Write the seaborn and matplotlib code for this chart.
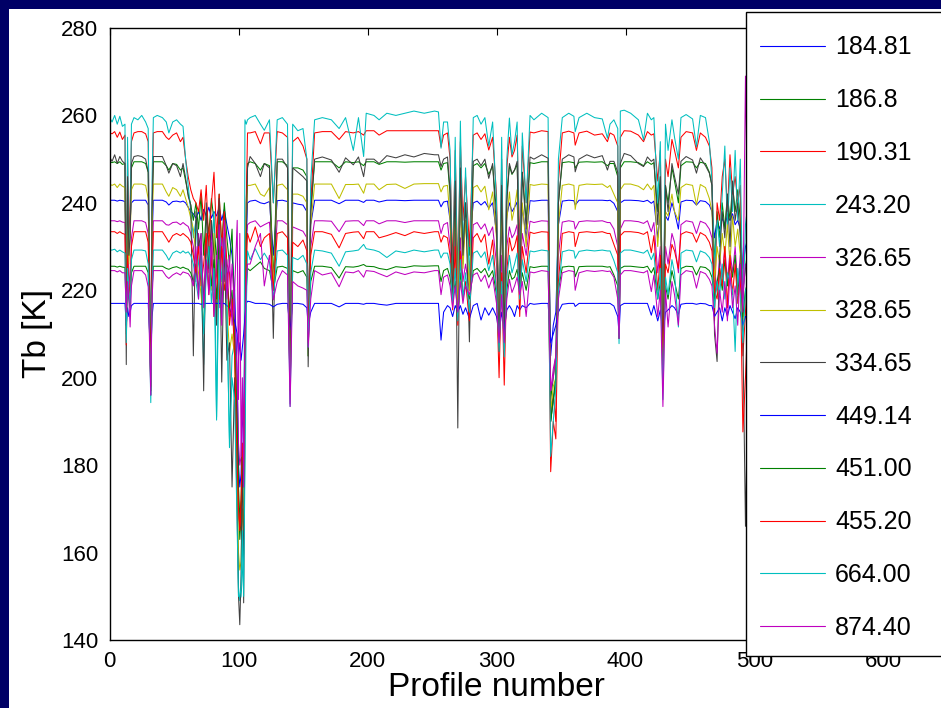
import numpy as np
import pandas as pd
import matplotlib
matplotlib.use("Agg")
import matplotlib.pyplot as plt
from matplotlib.lines import Line2D
from matplotlib.patches import Rectangle
import seaborn as sns

# ---------------- data ----------------
channels = ["184.81", "186.8", "190.31", "243.20", "326.65", "328.65",
            "334.65", "449.14", "451.00", "455.20", "664.00", "874.40"]

profile = [
    0, 2, 4, 6, 8, 10, 12,
    13, 14, 15, 16, 17,
    19, 22, 25, 28, 30,
    32, 33, 34,
    37, 41, 44, 46, 49, 52, 55,
    57, 59, 61, 63,
    65, 67, 69, 71, 73, 75, 77, 79, 81, 83, 85, 87, 89, 91, 93, 95,
    97, 99, 100, 101, 102, 103, 104, 105, 106, 107,
    109, 113, 117, 120, 124, 127, 130, 134, 138, 140, 142, 146, 150, 153, 154, 156, 159,
    165, 172, 178, 183, 189, 193, 197, 199, 205, 209, 215, 222, 229, 236, 244, 252,
    255, 257, 259, 262, 264, 266, 268, 270, 272, 274, 276, 279, 282, 285, 288, 291,
    294, 297, 300, 302, 304, 306, 308, 310, 312, 314, 316, 318, 320, 323, 326, 329,
    335, 340, 342, 344, 346, 348, 351, 356, 360, 361, 364,
    370, 376, 382, 386, 388, 391, 394, 395, 396, 399,
    404, 410, 414, 417, 420, 422, 425, 427, 429, 431, 433, 436, 438, 441, 443, 447, 452, 455, 458, 462, 465,
    467, 469, 471, 473, 475, 477, 479, 481, 483, 485, 487, 489, 491, 493, 495, 497, 500,
]

tb_184_81 = [
    240.6, 240.6, 240.6, 240.4, 240.6, 240.5, 240.3,
    225, 238, 232, 236, 240,
    240.6, 240.6, 240.6, 240.6, 239.5,
    205, 232, 240.6,
    240.6, 240.6, 240.2, 239.5, 240.3, 240.4, 240.2,
    240.4, 240, 239, 238,
    237.5, 236.5, 238, 236, 238.5, 237, 239, 236.5, 238, 237, 239, 236, 238.5, 235, 232, 228,
    220, 200, 180, 175, 178, 192, 188, 210, 232, 240,
    240.4, 240.6, 240, 239.8, 240.3, 228, 240.5, 240.6, 240.3, 205, 240, 239.7, 239.5, 238, 212, 235, 240.6,
    240.6, 240.6, 239.8, 240.6, 240.6, 240.6, 240.1, 240.6, 240.6, 240.2, 240.6, 240.6, 240.5, 240.6, 240.6, 240.6,
    240.6, 239.1, 240.2, 240.4, 236, 222, 238, 225, 239, 228, 236, 230, 240, 240.4, 239.5, 240.3,
    238.8, 240, 233, 215, 236, 218, 237, 240, 238, 239, 240.2, 226, 239, 232, 240.5, 240.4,
    240.6, 240.6, 205, 212, 215, 235, 240.4, 240.6, 240.5, 239.5, 240.6,
    240.6, 240.6, 240.6, 240.5, 240.6, 239.9, 238, 213, 240, 240.6,
    240.6, 240.5, 240.3, 240.6, 239.9, 240.4, 232, 238, 215, 237, 236, 240, 238, 234, 240.2, 240.6, 240.5, 239.5, 240.5, 240.3, 239.5,
    238, 232, 236, 234, 236.5, 235, 237, 236, 237.5, 235, 236, 234, 225, 230, 232, 236, 238,
]

tb_186_8 = [
    249.4, 249.2, 249.4, 249, 249.4, 248.8, 249,
    215, 245, 228, 236, 248,
    249.4, 249.4, 249.4, 249, 247,
    198, 238, 249.4,
    249.4, 249.4, 248.5, 247.5, 249, 248.8, 247.5,
    248, 245, 242, 239.5,
    236, 240, 234, 242, 228, 238, 233, 241, 236, 226, 242, 230, 240, 232, 226, 234,
    212, 190, 172, 163, 168, 180, 175, 205, 240, 249,
    249.4, 249, 247.5, 249, 248.5, 222, 249.4, 249.4, 248.5, 200, 248, 248, 247.5, 246, 205, 238, 249.4,
    249.4, 249.4, 248, 249.4, 249.2, 249.4, 248.5, 249.4, 249.4, 248.8, 249.4, 249.4, 249.3, 249.4, 249.4, 249.4,
    249.4, 247.5, 249, 249.2, 242, 222, 246, 220, 247, 230, 240, 228, 248.5, 249, 248, 249,
    246.5, 248.5, 238, 212, 244, 214, 242, 248.5, 246.5, 247.5, 248.8, 225, 247, 236, 249.2, 249,
    249.4, 249.4, 195, 200, 205, 240, 249.2, 249.4, 249.2, 248, 249.3,
    249.4, 249.3, 249.4, 248.5, 249, 249, 246, 210, 248, 249.4,
    249.4, 249.2, 248.5, 249.4, 248.8, 249.2, 238, 246, 210, 244, 240, 248, 245, 240, 248.5, 249.4, 249.3, 248, 249.3, 249, 247,
    244, 226, 238, 232, 240, 234, 242, 236, 244, 238, 243, 236, 220, 225, 230, 240, 245,
]

tb_190_31 = [
    256, 255.8, 256.3, 255, 256.2, 254.5, 255.5,
    212, 250, 230, 240, 254,
    256, 256.3, 256.3, 255.8, 254,
    200, 240, 256,
    256.3, 256.3, 255, 254.5, 255.5, 256, 254,
    255, 250, 246, 243,
    241, 240, 238, 243, 236, 244, 230, 240, 247, 232, 242, 230, 238, 226, 224, 214,
    212, 185, 168, 165, 170, 180, 178, 205, 240, 256,
    256, 256.3, 253.5, 256, 256, 240, 256.3, 256, 255, 205, 254, 255, 253, 250, 210, 240, 256,
    256.3, 256.3, 254.5, 256.3, 256, 256.3, 255.5, 256.5, 256.5, 255.5, 256.5, 256.5, 256.5, 256.5, 256.5, 256.5,
    256.5, 252.8, 255.5, 256, 250, 225, 252, 222, 254, 236, 246, 230, 255.5, 256, 254.5, 255.8,
    252.1, 255, 242, 210, 250, 212, 248, 255, 250.5, 252, 255.5, 230, 253, 240, 256.2, 256,
    256.5, 256.3, 192, 196, 190, 245, 256, 256.4, 256, 253.2, 256,
    256.4, 255.5, 255.8, 254, 256, 255.5, 253, 209, 255, 256.5,
    256.4, 255.5, 254, 256.3, 255.5, 255.8, 245, 252, 208, 250, 246, 254.5, 252, 248, 255, 256.3, 256, 252, 256, 255, 253,
    248, 213, 240, 236, 246, 250, 238, 251, 242, 246, 240, 244, 205, 215, 225, 245, 250,
]

tb_243_20 = [
    259.5, 258.5, 260, 258, 259.8, 257.5, 258,
    210, 255, 228, 235, 258,
    259.5, 259, 260, 258.5, 257,
    196, 245, 259.5,
    260, 259.5, 258.5, 256, 258.5, 259, 258,
    257.5, 250, 244, 238,
    232, 236, 226, 222, 203, 232, 220, 229, 238, 191, 236, 222, 230, 214, 186, 205,
    208, 182, 152, 149, 150, 155, 160, 259, 258, 259,
    259.5, 260, 258, 256.6, 259, 240, 259, 259.5, 258, 200, 258, 256.5, 257, 250, 205, 245, 259,
    259.5, 259, 257, 259.5, 252, 259.5, 250.6, 260.5, 260, 259, 260.5, 260, 260.5, 261, 260.5, 261,
    260.8, 252.5, 258.5, 258.5, 252, 218, 255, 215, 258.7, 226, 248, 222, 259.5, 260, 258, 259.5,
    253, 258.5, 240, 208, 255, 210, 250, 259.4, 251, 254, 258.5, 222, 256, 240, 260, 259,
    260.5, 259.5, 190, 195, 200, 250, 259.5, 260.5, 259.8, 256.3, 259.5,
    260.5, 259.5, 259.2, 254.8, 258, 259, 257, 210, 261, 261.2,
    260.5, 259, 254.4, 260.5, 259, 259.5, 240, 254, 205, 258, 252, 259, 255, 250, 259.5, 260.2, 259.2, 252.8, 260, 259.5, 254,
    245, 225, 236, 230, 242, 253, 234, 248, 238, 252, 236, 250, 215, 235, 240, 250, 255,
]

tb_326_65 = [
    235.9, 235.9, 235.9, 235.7, 235.9, 235.6, 235.5,
    215, 230, 225, 220, 232,
    235.9, 235.9, 235.9, 235.5, 233,
    199, 226, 235.9,
    235.9, 235.9, 235, 234.9, 235.5, 235.6, 235,
    235.5, 235, 234.6, 233,
    230, 222, 233, 226, 218, 231, 224, 234, 220, 228, 216, 232, 222, 227, 214, 226,
    215, 200, 185, 180, 182, 195, 190, 210, 230, 235,
    235.5, 235.9, 234.5, 235, 235.6, 222, 235.9, 235.9, 235, 194, 234.5, 234, 233.5, 232, 210, 230, 235.9,
    235.9, 235.8, 233.4, 235.8, 235.9, 235.9, 234.8, 235.9, 235.9, 235.2, 235.9, 235.9, 235.5, 235.9, 235.9, 235.9,
    235.9, 233, 235, 235.5, 230, 220, 233, 218, 232, 222, 226, 220, 235, 235.5, 234, 235.2,
    232.5, 234.5, 226, 210, 228, 212, 230, 234.5, 232, 233, 235, 222, 233, 228, 235.8, 235.5,
    235.9, 235.8, 197, 202, 205, 228, 235.6, 235.9, 235.7, 234, 235.7,
    235.9, 235.8, 235.9, 235.5, 235.5, 234, 230, 209, 234, 235.9,
    235.9, 235.7, 235.3, 235.9, 233.4, 235.5, 224, 230, 200, 230, 226, 233, 231, 224, 235, 235.9, 235.6, 233, 235.8, 235.3, 234,
    232, 225, 220, 228, 223, 230, 222, 229, 224, 230, 221, 228, 218, 226, 225, 230, 232,
]

tb_328_65 = [
    244.3, 244, 244.3, 243.5, 244.3, 243.8, 243.5,
    212, 240, 226, 232, 243,
    244.3, 244.3, 244.3, 244, 241,
    197, 235, 244.3,
    244.3, 244.3, 242.5, 241.5, 243.5, 243, 241.5,
    243, 241, 239, 236.5,
    234, 228, 224, 219, 212, 226, 230, 220, 233, 214, 228, 218, 234, 216, 206, 210,
    205, 175, 160, 156, 158, 170, 165, 200, 235, 244,
    244, 244.3, 242, 241.5, 243.5, 220, 244, 244.3, 243, 198, 242, 242, 241.5, 240, 205, 235, 244.3,
    244.3, 244.3, 241, 244.2, 244.2, 244.3, 242.2, 244.3, 244.3, 243, 244.2, 244.3, 243.3, 244.3, 244.4, 244.4,
    244.4, 242.5, 243.8, 244, 236, 220, 240, 214, 241, 225, 236, 220, 243.5, 244, 242.5, 243.8,
    238.4, 242.5, 232, 208, 240, 213, 236, 242.5, 236, 238.8, 243, 222, 240, 230, 244.2, 244,
    244.3, 244.2, 192, 198, 200, 235, 244, 244.3, 244, 238.5, 244,
    244.3, 244.2, 244.3, 243.5, 244, 242, 240, 210, 243, 244.3,
    244.3, 243.8, 243, 244.3, 243, 244, 230, 240, 207, 238, 237, 242, 238, 236, 243.5, 244.3, 244, 239.5, 244.2, 243.5, 241,
    238, 222, 230, 226, 233, 228, 235, 226, 237, 230, 234, 228, 212, 220, 222, 235, 240,
]

tb_334_65 = [
    250.5, 249.5, 251, 249, 250.6, 249.5, 249,
    203, 246, 228, 232, 249,
    250.6, 250.8, 250.6, 250, 247,
    196, 238, 250.6,
    250.6, 250.6, 248.5, 246.8, 249, 248.5, 246,
    249, 245.7, 241.5, 239.5,
    205, 238, 230, 233, 197, 240, 225, 236, 228, 212, 241, 199, 232, 204, 208, 175,
    200, 168, 150, 143.5, 155, 185, 148.5, 190, 230, 248,
    250.6, 249, 246, 249, 248, 209, 250, 250, 248, 200, 248, 247, 246, 245, 202.5, 238, 250,
    250.5, 249.8, 247, 250.3, 248.7, 250.5, 246, 250, 250, 249, 250.8, 250.3, 251, 250.5, 251.3, 251,
    251, 248.3, 250, 250.5, 243, 217.5, 245, 188.5, 248, 228, 240, 208.2, 249.5, 250, 248.5, 250,
    245.6, 249, 234, 206, 244, 210, 240, 249, 246.7, 247.5, 249.5, 220, 247, 234, 250.5, 250,
    251, 250.2, 190, 195, 198, 240, 250, 251, 250.5, 247.1, 250,
    251, 250.3, 250.8, 247.5, 249.5, 249.5, 247, 209, 249, 251.3,
    250.8, 249, 248.3, 250.5, 249.5, 250, 235, 246, 204, 244, 238, 249, 246, 242, 249.5, 250.6, 249.8, 246.8, 250.3, 248.5, 246.8,
    244, 210, 203.7, 228, 238, 232, 242, 230, 245, 236, 240, 232, 210, 166, 200, 240, 245,
]

tb_449_14 = [
    217, 217, 217, 217, 217, 217, 217,
    212, 216, 214, 215, 216.5,
    217, 217, 217, 217, 217,
    205, 214, 217,
    217, 217, 217, 217, 217, 217, 217,
    217, 217, 217, 217,
    217, 217, 217, 216.8, 217, 217, 217, 217, 217, 217, 217, 217, 217, 216.5, 216, 214,
    213, 210, 205, 208, 204, 207, 210, 214, 217, 217.5,
    217.4, 217, 217, 217, 216.8, 216.2, 216.8, 217, 217, 211, 217, 217, 216.8, 216, 212, 215, 217,
    217, 217, 216.2, 217, 217, 217, 216.8, 217, 217, 216.8, 216.6, 217, 217, 217, 217, 217,
    217, 208.6, 215, 216.5, 216, 214, 216.5, 215, 216.5, 214.5, 216, 213.5, 216.5, 217, 213.2, 216,
    214.3, 216, 214, 210, 215, 211, 215.5, 216.5, 215.5, 214, 216.5, 215.5, 216.5, 216, 217, 216.8,
    217, 217, 208, 210, 212, 215, 216.8, 217, 217, 216.3, 217,
    217, 217, 217, 217, 217, 216.4, 214, 210, 216.5, 217,
    217, 217, 217, 217, 214.3, 216.5, 213, 215.5, 210, 215, 215.5, 216.5, 216, 214.5, 216.8, 217, 217, 216.8, 217, 216.9, 216.5,
    216.5, 214, 215, 216, 213, 216, 214, 216.5, 215, 213.5, 216, 215, 212, 214, 214, 216, 216.5,
]

tb_451_00 = [
    225.5, 225.5, 225.5, 225.3, 225.5, 225.3, 225.2,
    213, 222, 218, 216, 224,
    225.5, 225.5, 225.5, 225.5, 224,
    197, 220, 225.5,
    225.5, 225.5, 225, 224.8, 225.2, 225.4, 225,
    225.3, 225, 224.8, 224,
    222, 226, 220, 229, 218, 224, 230, 221, 227, 218, 232, 216, 233, 222, 216, 220,
    208, 188, 175, 168, 172, 185, 180, 205, 220, 225,
    224.5, 225.5, 226.5, 225, 224.5, 220, 225.3, 225.5, 225, 198, 224.5, 224, 224.5, 223, 210, 222, 225.5,
    225.5, 225.2, 222.8, 225.4, 225.3, 225.5, 225.9, 225.5, 225.4, 225, 224.7, 225.4, 225.2, 225.6, 225.5, 225.6,
    225.6, 222, 224.5, 225, 223, 218, 222, 214, 224, 219, 221, 218, 224.5, 225, 224, 225,
    223, 224.5, 219, 206, 221, 207, 220, 224.5, 222.5, 223, 224.8, 220, 224, 220, 225.4, 225.2,
    225.5, 225.5, 190, 195, 200, 220, 225.3, 225.5, 225.4, 223.1, 225.4,
    225.5, 225.5, 225.5, 225.3, 225.4, 223.5, 221, 209, 225, 225.5,
    225.5, 225.3, 225.2, 225.5, 224, 225.2, 218, 222, 205, 221, 218, 224.5, 222, 218, 225, 225.5, 225.4, 223.5, 225.4, 225.2, 224.5,
    223, 218, 222, 225, 220, 227, 221, 226, 223, 228, 219, 226, 214, 220, 221, 223, 224,
]

tb_455_20 = [
    233.4, 233.4, 233.4, 233, 233.4, 233, 232.8,
    207.5, 228, 222, 218, 230,
    233.4, 233.4, 233.4, 233.4, 231,
    198, 224, 233.4,
    233.4, 233.4, 232, 231, 232.5, 233, 232.5,
    233, 232.5, 232, 231,
    228, 224, 230, 221, 226, 233, 219, 228, 214, 225, 218, 230, 220, 224, 212, 218,
    205, 180, 170, 166, 172, 185, 180, 205, 225, 233,
    231, 234.5, 230, 232, 233, 220, 233, 233.4, 232, 197, 231, 230, 231.5, 229, 208, 228, 233.4,
    233.4, 232.8, 229.7, 233, 233.3, 233.4, 231.8, 233.4, 233.4, 232, 232.5, 233.2, 232.5, 233.4, 233, 233.4,
    233.4, 231, 232.5, 232, 228, 215.5, 230, 212, 229, 218, 222, 213, 232, 233, 231, 232.8,
    226, 231.5, 220, 200, 224, 198.3, 224, 232, 229, 230, 232.5, 214, 230, 224, 233.3, 233,
    233.4, 233.3, 178.5, 190, 186, 222, 233, 233.4, 233.2, 230, 233.2,
    233.4, 233.2, 233.4, 233, 233, 230.5, 228, 209, 232.5, 233.4,
    233.4, 233.2, 232.8, 233.4, 228.6, 232.5, 220, 228, 203, 226, 224, 230.5, 229, 225, 232.8, 233.4, 233, 231, 233.2, 232.5, 231,
    229, 220, 218, 225, 221, 230, 216, 228, 219, 226, 217, 224, 187.6, 200, 215, 228, 230,
]

tb_664_00 = [
    229.2, 229.2, 229.4, 228.8, 229.2, 228.8, 228.5,
    208, 225, 220, 216, 227,
    229.2, 229.2, 229.2, 229, 226,
    194.3, 220, 229.2,
    229.2, 229.2, 228, 226.9, 228.5, 229, 228.5,
    229, 228.5, 228.8, 228,
    226, 222, 218, 228, 210, 224, 230, 217, 225, 190.3, 227, 214, 232, 218, 184, 200,
    195, 165, 150, 149.8, 152, 165, 150, 180, 215, 229,
    227, 229.5, 227, 228.5, 226.5, 218, 229, 229.2, 228, 193.4, 227.5, 227, 228, 226, 207, 224, 229.2,
    229, 228.5, 225.5, 228.8, 229, 229.2, 230.5, 229.5, 229.2, 228.8, 227.5, 229, 228.6, 229.2, 228.8, 229.2,
    229.2, 227.4, 228.5, 228.5, 226, 217, 225, 213, 227, 218, 224, 215, 228.5, 229, 227.5, 228.8,
    224.5, 228, 220, 206, 222, 204.8, 223, 228, 224, 226, 228.5, 218, 227, 222, 229, 228.8,
    229.2, 229, 182, 190, 198, 220, 228.8, 229.2, 229, 227.3, 228.9,
    229.2, 229, 229.2, 229, 229, 226.8, 224, 207.8, 228.5, 229.2,
    229.2, 228.8, 228.5, 229.2, 227, 228.5, 218, 225, 195, 223, 219, 227, 224, 211.6, 228.5, 229.2, 229, 226.5, 229, 228.5, 227.5,
    226, 216, 222, 219, 226, 218, 224, 222, 220, 206, 225, 219, 208, 220, 222, 226, 227,
]

tb_874_40 = [
    224.5, 224.5, 224.5, 224.2, 224.5, 224, 224,
    215, 222, 218, 211.6, 221,
    224.5, 224.5, 224.5, 223.5, 220.8,
    196, 218, 224.5,
    224.5, 224.5, 223.2, 222.7, 223.5, 224, 223.5,
    224.2, 224, 223.8, 223,
    221, 230, 218, 233, 216, 227, 219, 231, 214, 226, 235, 212, 236, 218, 228, 212,
    220, 236, 195, 233, 182, 200, 175, 210, 222, 226,
    226, 230, 233, 221, 228, 217.8, 222, 224.5, 223.5, 193.4, 222, 221, 220.5, 220, 207, 218, 224.5,
    223.5, 224, 220.8, 224.2, 224, 224.5, 223, 224.5, 224.3, 223.8, 223.1, 224.2, 223.6, 224.2, 224, 224.5,
    224.5, 219, 223, 223.5, 221, 216, 221, 215, 222, 217, 221, 219, 223.5, 224, 222, 223.5,
    220.5, 223, 217, 208, 219, 208, 218, 222.5, 219.5, 221, 223, 219, 222, 214, 224.2, 224,
    224.5, 224.3, 197, 200, 205, 218, 224, 224.5, 224.3, 220, 224,
    224.5, 224.3, 224.5, 224.3, 224.4, 223, 218, 209, 223.5, 224.5,
    224.5, 224.2, 224, 224.5, 219.7, 223.5, 214, 220, 193.4, 220, 211.6, 222, 219, 212, 223.5, 224.5, 224.2, 220.5, 224.3, 223.8, 222.5,
    221, 212, 205.6, 220, 215, 222, 213, 224, 216, 221, 212, 226, 215, 269, 230, 222, 223,
]

series = [tb_184_81, tb_186_8, tb_190_31, tb_243_20, tb_326_65, tb_328_65,
          tb_334_65, tb_449_14, tb_451_00, tb_455_20, tb_664_00, tb_874_40]

colors = ["#0000ff", "#008000", "#ff0000", "#00bfbf", "#bf00bf", "#bfbf00",
          "#404040", "#0000ff", "#008000", "#ff0000", "#00bfbf", "#bf00bf"]

x_ticks = [0, 100, 200, 300, 400, 500, 600]
y_ticks = [140, 160, 180, 200, 220, 240, 260, 280]

lengths = [len(s) for s in series]
if any(n != len(profile) for n in lengths):
    raise SystemExit(f"length mismatch: profile={len(profile)} series={lengths}")

frames = []
for ch, vals in zip(channels, series):
    frames.append(pd.DataFrame({"profile": profile, "tb": vals, "channel": ch}))
df = pd.concat(frames, ignore_index=True)

# ---------------- figure ----------------
sns.set_theme(style="white")
plt.rcParams["font.family"] = ["Liberation Sans", "DejaVu Sans"]
plt.rcParams["text.color"] = "black"
plt.rcParams["axes.labelcolor"] = "black"

W, H = 941, 708
fig = plt.figure(figsize=(W / 100, H / 100), dpi=100)
fig.patch.set_facecolor("#000066")
bg = Rectangle((9 / W, 0), 1, 1 - 9 / H, transform=fig.transFigure,
               facecolor="white", edgecolor="none", zorder=-10)
fig.patches.append(bg)

x0, x1 = 109.5, 883.5
y_top, y_bot = 28, 640
ax = fig.add_axes([x0 / W, 1 - y_bot / H, (x1 - x0) / W, (y_bot - y_top) / H])
ax.set_zorder(1)
ax.set_facecolor("white")

sns.lineplot(data=df, x="profile", y="tb", hue="channel", hue_order=channels,
             palette=colors, estimator=None, sort=False, linewidth=0.75,
             legend=False, ax=ax)

ax.set_xlim(0, 600)
ax.set_ylim(140, 280)
ax.set_xticks(x_ticks)
ax.set_yticks(y_ticks)
ax.tick_params(direction="in", length=5, width=0.8, top=True, right=True,
               labelsize=16, colors="black", pad=8)
for sp in ax.spines.values():
    sp.set_visible(True)
    sp.set_color("black")
    sp.set_linewidth(1.0)
ax.set_xlabel("Profile number", fontsize=24, labelpad=0, color="black")
ax.set_ylabel("Tb [K]", fontsize=24, labelpad=6, color="black")

# legend box (frame drawn separately so it can run past the figure edge)
leg_left, leg_top, leg_bottom = 746, 12, 656
frame = Rectangle((leg_left / W, 1 - leg_bottom / H), (W - leg_left + 20) / W,
                  (leg_bottom - leg_top) / H, transform=fig.transFigure,
                  facecolor="white", edgecolor="black", linewidth=1.0, zorder=5)
fig.patches.append(frame)

handles = [Line2D([0], [0], color=c, lw=0.8) for c in colors]
leg = fig.legend(handles, channels, loc="upper left",
                 bbox_to_anchor=(760 / W, 1 - 35.5 / H), bbox_transform=fig.transFigure,
                 fontsize=18, frameon=False, borderpad=0, labelspacing=1.15,
                 handlelength=2.6, handletextpad=0.4, borderaxespad=0,
                 labelcolor="black")
leg.set_zorder(10)

fig.savefig("out.png", dpi=100, facecolor=fig.get_facecolor())
